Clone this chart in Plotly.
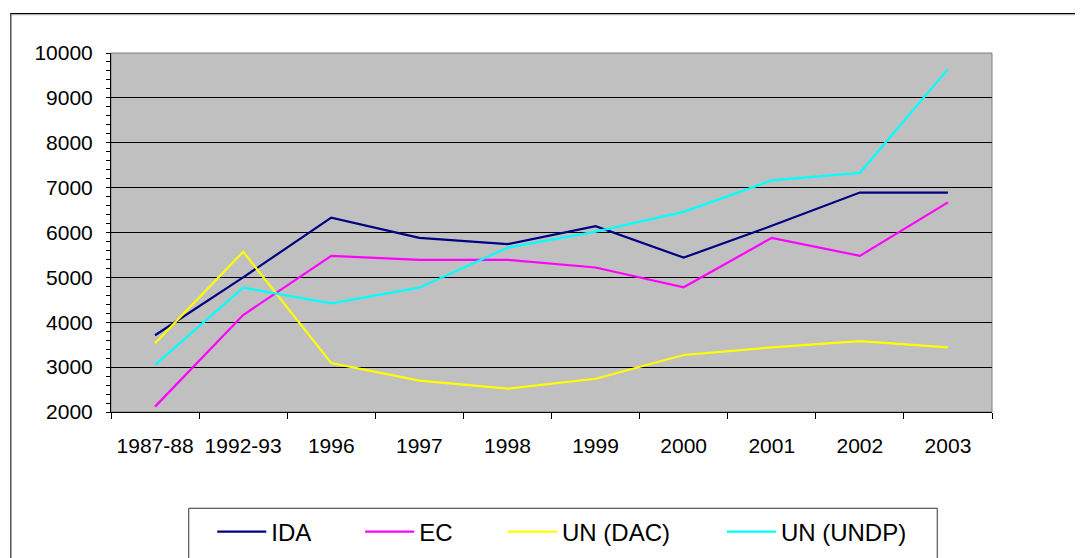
import plotly.graph_objects as go

categories = ["1987-88", "1992-93", "1996", "1997", "1998", "1999", "2000", "2001", "2002", "2003"]
ida = [3710, 5000, 6330, 5880, 5740, 6140, 5440, 6150, 6890, 6890]
ec = [2120, 4160, 5480, 5390, 5390, 5220, 4780, 5880, 5480, 6670]
un_dac = [3530, 5570, 3090, 2700, 2520, 2740, 3270, 3440, 3580, 3440]
un_undp = [3050, 4770, 4420, 4770, 5660, 6020, 6460, 7160, 7330, 9640]
y_ticks = [2000, 3000, 4000, 5000, 6000, 7000, 8000, 9000, 10000]
y_tick_text = ["2000", "3000", "4000", "5000", "6000", "7000", "8000", "9000", "10000"]

series = [
    ("IDA", ida, "#000080", "legend"),
    ("EC", ec, "#FF00FF", "legend2"),
    ("UN (DAC)", un_dac, "#FFFF00", "legend3"),
    ("UN (UNDP)", un_undp, "#00FFFF", "legend4"),
]

W_FIG, H_FIG = 1083, 558
OFF = 8  # page body margin
PL, PR, PT, PB = 110.7, 992.3, 53.3, 415.0  # plot area in screen px
L = PL - OFF
T = PT - OFF
R = W_FIG + OFF - PR
B = H_FIG + OFF - PB
PW = PR - PL
PH = PB - PT

def px(x):
    return (x - PL) / PW

def py(y):
    return (PB - y) / PH

FONT = "Liberation Sans, Arial, sans-serif"

fig = go.Figure()
for name, vals, color, lg in series:
    fig.add_trace(go.Scatter(
        x=categories, y=vals, name=name, mode="lines",
        line=dict(color=color, width=2.2), legend=lg,
    ))

legend_starts = [212, 360, 503, 722]
legend_common = dict(orientation="h", yanchor="middle", y=py(536), xanchor="left",
                     bgcolor="rgba(0,0,0,0)", borderwidth=0, itemwidth=49,
                     font=dict(family=FONT, size=24, color="black"))
layout_legends = {}
for i, key in enumerate(["legend", "legend2", "legend3", "legend4"]):
    layout_legends[key] = dict(x=px(legend_starts[i]), **legend_common)

fig.update_layout(
    width=W_FIG, height=H_FIG,
    margin=dict(l=L, r=R, t=T, b=B, pad=0),
    paper_bgcolor="white",
    plot_bgcolor="#C0C0C0",
    font=dict(family=FONT, size=21, color="black"),
    showlegend=True,
    **layout_legends,
    xaxis=dict(
        type="category", range=[-0.5, len(categories) - 0.5],
        tickson="boundaries", ticks="outside", ticklen=6, tickcolor="black",
        showline=True, linecolor="black", linewidth=1,
        showgrid=False, ticklabelstandoff=15,
        tickfont=dict(family=FONT, size=21, color="black"),
    ),
    yaxis=dict(
        range=[2000, 10000], tickvals=y_ticks, ticktext=y_tick_text,
        ticks="outside", ticklen=4, tickcolor="black",
        minor=dict(dtick=200, ticks="outside", ticklen=4, tickcolor="black", showgrid=False),
        showline=True, linecolor="black", linewidth=1,
        showgrid=True, gridcolor="black", gridwidth=1,
        zeroline=False, ticklabelstandoff=9,
        tickfont=dict(family=FONT, size=21, color="black"),
    ),
    yaxis2=dict(
        overlaying="y", side="left", range=[2000, 10000], tickvals=y_ticks,
        ticks="inside", ticklen=4, tickcolor="black",
        minor=dict(dtick=200, ticks="inside", ticklen=4, tickcolor="black", showgrid=False),
        showline=False, showgrid=False, zeroline=False, showticklabels=False,
    ),
)

shapes = [
    # plot area border (gray)
    dict(type="rect", xref="paper", yref="paper", x0=0, x1=1, y0=0, y1=1,
         line=dict(color="#808080", width=1), layer="between"),
    # outer chart border
    dict(type="line", xref="paper", yref="paper", x0=px(10), x1=px(1100), y0=py(13.5), y1=py(13.5),
         line=dict(color="black", width=1)),
    dict(type="line", xref="paper", yref="paper", x0=px(11), x1=px(1100), y0=py(14.7), y1=py(14.7),
         line=dict(color="#A0A0A0", width=1)),
    dict(type="line", xref="paper", yref="paper", x0=px(10.5), x1=px(10.5), y0=py(13.5), y1=py(580),
         line=dict(color="black", width=1)),
    # legend box
    dict(type="rect", xref="paper", yref="paper", x0=px(188.5), x1=px(937.5), y0=py(512), y1=py(585),
         line=dict(color="#333333", width=1), fillcolor="rgba(0,0,0,0)"),
]
fig.update_layout(shapes=shapes)

fig.write_html("out.html")
